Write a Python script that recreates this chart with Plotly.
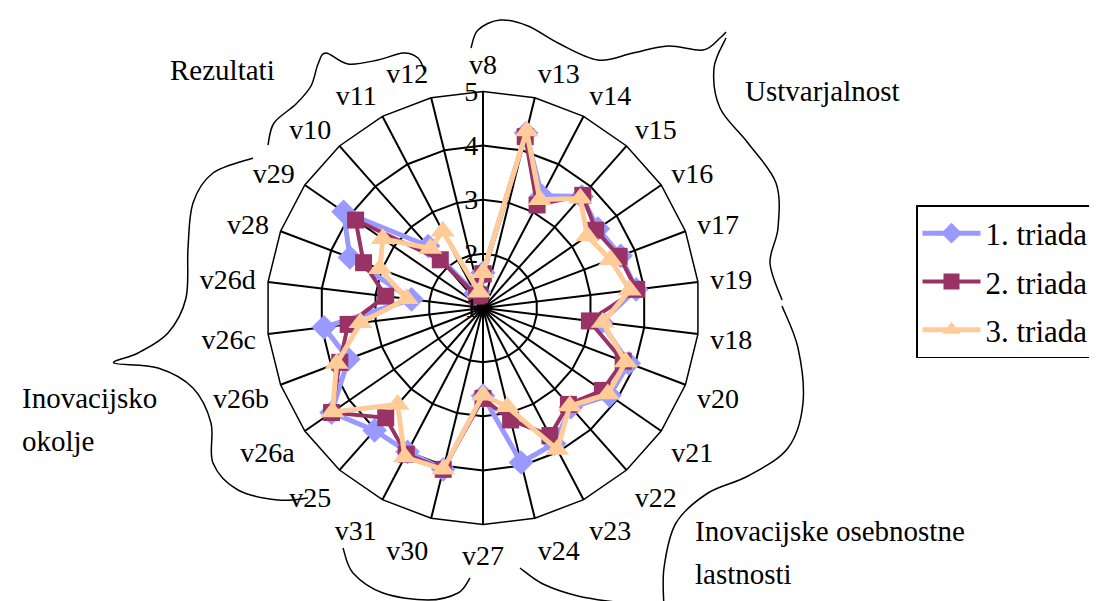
import plotly.graph_objects as go

categories = ["v8", "v13", "v14", "v15", "v16", "v17", "v19", "v18", "v20", "v21",
              "v22", "v23", "v24", "v27", "v30", "v31", "v25", "v26a", "v26b",
              "v26c", "v26d", "v28", "v29", "v10", "v11", "v12"]

triada1 = [1.65, 4.33, 3.34, 3.75, 3.58, 3.72, 3.85, 3.20, 3.88, 3.84,
           3.45, 3.83, 3.94, 2.62, 4.07, 4.00, 4.02, 4.40, 3.66,
           3.96, 2.33, 3.63, 4.13, 2.53, 1.30, 1.30]
triada2 = [1.63, 4.26, 3.15, 3.78, 3.53, 3.69, 3.86, 2.98, 3.77, 3.68,
           3.38, 3.66, 3.13, 2.67, 4.07, 4.05, 3.71, 4.40, 3.83,
           3.51, 2.81, 3.36, 3.86, 2.19, 1.25, 1.25]
triada3 = [1.65, 4.37, 3.26, 3.71, 3.34, 3.52, 3.73, 3.23, 3.82, 3.80,
           3.42, 3.95, 2.88, 2.61, 4.07, 4.11, 3.38, 4.38, 3.89,
           3.28, 2.42, 3.04, 3.25, 2.47, 2.60, 1.30]

series_names = ["1. triada", "2. triada", "3. triada"]
radial_ticks = [1, 2, 3, 4, 5]

W, H = 1097, 601
FONT = "Liberation Serif"

fig = go.Figure()

styles = [
    dict(color="#9999FF", symbol="diamond", size=19, width=5),
    dict(color="#993366", symbol="square", size=17, width=4),
    dict(color="#FFCC99", symbol="triangle-up", size=21, width=5),
]
for name, vals, st in zip(series_names, [triada1, triada2, triada3], styles):
    fig.add_trace(go.Scatterpolar(
        r=vals + [vals[0]],
        theta=categories + [categories[0]],
        mode="lines+markers",
        name=name,
        legendgroup=name,
        line=dict(color=st["color"], width=st["width"]),
        marker=dict(color=st["color"], symbol=st["symbol"], size=st["size"],
                    line=dict(width=0)),
    ))

# target centre / radius in pixels (with small empirical correction)
cx, cy, R = 475.0, 300.0, 216.5
fig.update_layout(
    width=W, height=H,
    margin=dict(l=0, r=0, t=0, b=0, autoexpand=False),
    paper_bgcolor="white",
    plot_bgcolor="white",
    font=dict(family=FONT, size=28, color="black"),
    showlegend=True,
    polar=dict(
        domain=dict(x=[(cx - R) / W, (cx + R) / W],
                    y=[1 - (cy + R) / H, 1 - (cy - R) / H]),
        bgcolor="white",
        gridshape="linear",
        angularaxis=dict(
            type="category",
            categoryorder="array",
            categoryarray=categories,
            direction="clockwise",
            rotation=90,
            showline=True, linecolor="black", linewidth=1.5,
            showgrid=True, gridcolor="black", gridwidth=1.5,
            ticks="outside", ticklen=6, tickcolor="rgba(0,0,0,0)",
            tickfont=dict(family=FONT, size=28, color="black"),
        ),
        radialaxis=dict(
            range=[1, 5],
            tickvals=radial_ticks,
            ticktext=[str(t) for t in radial_ticks],
            angle=90,
            side="counterclockwise",
            tickangle=90,
            showline=False,
            showgrid=True, gridcolor="black", gridwidth=1.5,
            ticks="",
            tickfont=dict(family=FONT, size=28, color="black"),
        ),
    ),
    legend=dict(
        x=908 / W, xanchor="left",
        y=1 - 197 / H, yanchor="top",
        bordercolor="black", borderwidth=1.5,
        bgcolor="white",
        font=dict(family=FONT, size=31, color="black"),
        itemwidth=58,
        traceorder="grouped",
        tracegroupgap=5,
    ),
)


def px(x, y):
    return x / W, 1 - y / H


def smooth_path(points):
    pts = [px(x, y) for x, y in points]
    d = "M {:.5f},{:.5f}".format(*pts[0])
    n = len(pts)
    for i in range(n - 1):
        p0 = pts[i - 1] if i > 0 else pts[i]
        p1 = pts[i]
        p2 = pts[i + 1]
        p3 = pts[i + 2] if i + 2 < n else pts[i + 1]
        c1 = (p1[0] + (p2[0] - p0[0]) / 6, p1[1] + (p2[1] - p0[1]) / 6)
        c2 = (p2[0] - (p3[0] - p1[0]) / 6, p2[1] - (p3[1] - p1[1]) / 6)
        d += " C {:.5f},{:.5f} {:.5f},{:.5f} {:.5f},{:.5f}".format(*c1, *c2, *p2)
    return d


curves = [
    # Rezultati (top-left)
    [(260, 137), (266, 115), (288, 96), (303, 78), (310, 56), (318, 45), (340, 56),
     (370, 52), (395, 45), (410, 50), (417, 64)],
    # Ustvarjalnost (top-right)
    [(463, 40), (470, 22), (492, 12), (520, 18), (550, 35), (590, 52), (625, 45),
     (660, 38), (695, 42), (712, 30), (718, 24)],
    [(718, 30), (706, 60), (712, 100), (740, 135), (768, 175), (770, 220),
     (762, 255), (774, 292)],
    # Inovacijske osebnostne lastnosti (bottom-right)
    [(774, 298), (790, 340), (795, 395), (780, 440), (740, 468), (700, 485),
     (668, 515), (656, 560), (656, 601)],
    [(335, 540), (345, 565), (375, 585), (420, 592), (450, 585), (462, 570)],
    [(512, 560), (535, 576), (570, 588), (612, 595), (650, 601)],
    # Inovacijsko okolje (left)
    [(245, 150), (205, 165), (185, 195), (180, 240), (178, 290), (160, 325),
     (130, 345), (106, 355), (150, 360), (185, 380), (203, 415), (205, 455),
     (230, 482), (270, 492), (300, 490)],
]
for c in curves:
    fig.add_shape(type="path", xref="paper", yref="paper", path=smooth_path(c),
                  line=dict(color="black", width=1.5))

labels = [
    ("Rezultati", 160, 62, "left"),
    ("Ustvarjalnost", 735, 83, "left"),
    ("Inovacijsko", 12, 390, "left"),
    ("okolje", 12, 433, "left"),
    ("Inovacijske osebnostne", 685, 523, "left"),
    ("lastnosti", 685, 566, "left"),
]
for text, x, y, anchor in labels:
    fig.add_annotation(text=text, x=x / W, y=1 - y / H, xref="paper", yref="paper",
                       xanchor=anchor, yanchor="middle", showarrow=False,
                       font=dict(family=FONT, size=29, color="black"))

fig.write_html("out.html")
